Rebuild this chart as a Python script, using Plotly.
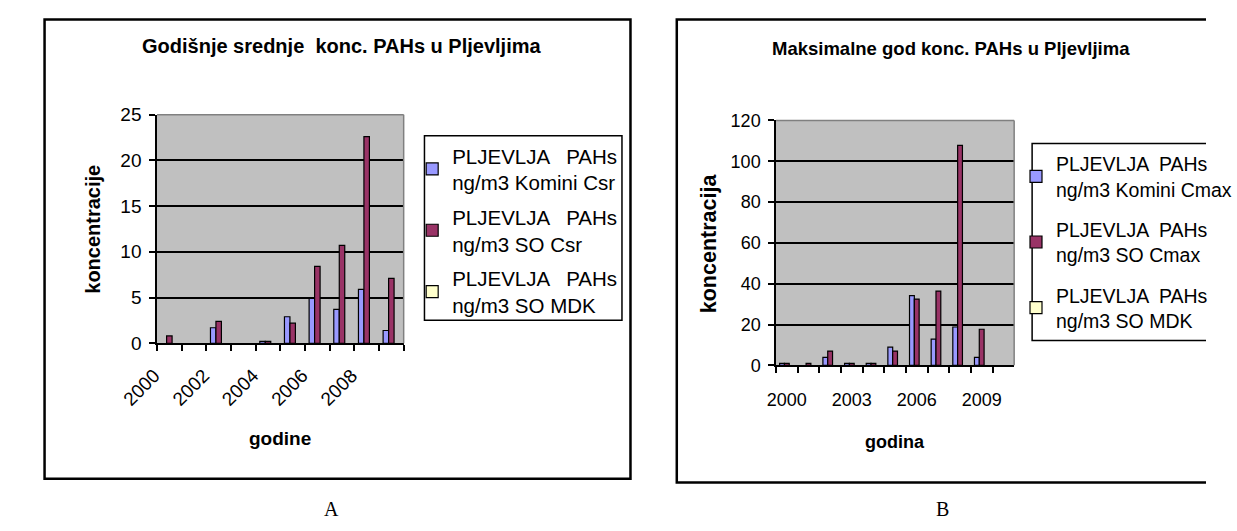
import plotly.graph_objects as go

# ---------------- data ----------------
years_a = ["2000", "2001", "2002", "2003", "2004", "2005", "2006", "2007", "2008", "2009"]
tick_labels_a = ["2000", "", "2002", "", "2004", "", "2006", "", "2008", ""]
komini_csr = [None, None, 1.7, None, 0.2, 2.9, 4.9, 3.7, 5.9, 1.4]
so_csr = [0.8, None, 2.4, None, 0.2, 2.2, 8.4, 10.7, 22.6, 7.1]
so_mdk_a = [None, None, None, None, None, None, None, None, None, None]

years_b = ["2000", "2001", "2002", "2003", "2004", "2005", "2006", "2007", "2008", "2009", "2010"]
tick_labels_b = ["2000", "", "", "2003", "", "", "2006", "", "", "2009", ""]
komini_cmax = [1.0, None, 3.9, 1.0, 1.0, 8.9, 34.2, 12.9, 18.8, 3.9, None]
so_cmax = [1.0, 1.0, 7.0, 1.0, 1.0, 7.0, 32.5, 36.4, 107.8, 17.7, None]
so_mdk_b = [None, None, None, None, None, None, None, None, None, None, None]

names_a = ["PLJEVLJA   PAHs<br>ng/m3 Komini Csr",
           "PLJEVLJA   PAHs<br>ng/m3 SO Csr",
           "PLJEVLJA   PAHs<br>ng/m3 SO MDK"]
names_b = ["PLJEVLJA  PAHs<br>ng/m3 Komini Cmax",
           "PLJEVLJA  PAHs<br>ng/m3 SO Cmax",
           "PLJEVLJA  PAHs<br>ng/m3 SO MDK"]
colors = ["#9999FF", "#993366", "#FFFFCC"]

W, H = 1237, 531
def px(x):
    return x / W
def py(y):
    return 1 - y / H

FONT = "Liberation Sans, Arial, sans-serif"
SERIF = "Liberation Serif, DejaVu Serif, serif"

fig = go.Figure()

for i, vals in enumerate([komini_csr, so_csr, so_mdk_a]):
    fig.add_trace(go.Bar(x=years_a, y=vals, name=names_a[i],
                         marker=dict(color=colors[i], line=dict(color="black", width=1.2)),
                         xaxis="x", yaxis="y", legend="legend",
                         legendgroup="a%d" % i))
for i, vals in enumerate([komini_cmax, so_cmax, so_mdk_b]):
    fig.add_trace(go.Bar(x=years_b, y=vals, name=names_b[i],
                         marker=dict(color=colors[i], line=dict(color="black", width=1.2)),
                         xaxis="x2", yaxis="y2", legend="legend2",
                         legendgroup="b%d" % i))

axis_common = dict(showline=True, linecolor="black", linewidth=1.5,
                   ticks="outside", tickcolor="black", tickwidth=1.5, ticklen=6,
                   zeroline=False, fixedrange=True)

fig.update_layout(
    width=W, height=H, autosize=False,
    margin=dict(l=0, r=0, t=0, b=0),
    paper_bgcolor="white", plot_bgcolor="#C0C0C0",
    barmode="group", bargap=0.333, bargroupgap=0,
    font=dict(family=FONT, color="black"),
    xaxis=dict(domain=[px(127), px(388)], anchor="y", type="category",
               tickvals=years_a, ticktext=tick_labels_a, tickson="boundaries",
               tickangle=-45, tickfont=dict(size=19), showgrid=False,
               range=[-0.5, 9.5], ticklabelstandoff=12, ticklabelshift=-15,
               **axis_common),
    yaxis=dict(domain=[py(347), py(109)], anchor="x", range=[0, 25], dtick=5,
               showgrid=True, gridcolor="black", gridwidth=1.5,
               tickfont=dict(size=19), ticklabelstandoff=4, **axis_common),
    xaxis2=dict(domain=[px(782), px(1034)], anchor="y2", type="category",
                tickvals=years_b, ticktext=tick_labels_b, tickson="boundaries",
                tickangle=0, tickfont=dict(size=18), showgrid=False,
                range=[-0.5, 10.5], ticklabelstandoff=17, **axis_common),
    yaxis2=dict(domain=[py(370), py(115)], anchor="x2", range=[0, 120], dtick=20,
                showgrid=True, gridcolor="black", gridwidth=1.5,
                tickfont=dict(size=18), ticklabelstandoff=4, **axis_common),
    legend=dict(x=px(397), y=py(131), xanchor="left", yanchor="top",
                bgcolor="rgba(0,0,0,0)", borderwidth=0,
                font=dict(size=20.5, family=FONT), traceorder="grouped",
                tracegroupgap=5, itemclick=False, itemdoubleclick=False),
    legend2=dict(x=px(1036), y=py(140), xanchor="left", yanchor="top",
                 bgcolor="rgba(0,0,0,0)", borderwidth=0,
                 font=dict(size=19.5, family=FONT), traceorder="grouped",
                 tracegroupgap=12, itemclick=False, itemdoubleclick=False),
    showlegend=True,
)

def open_box(x0, y0, y1, x_end):
    # rectangle whose right side lies at the page edge (no right border drawn)
    return "M %f,%f L %f,%f L %f,%f L %f,%f" % (
        px(x_end), py(y1), px(x0), py(y1), px(x0), py(y0), px(x_end), py(y0))

shapes = []
# outer chart borders
shapes.append(dict(type="rect", xref="paper", yref="paper",
                   x0=px(8), x1=px(628), y0=py(488), y1=py(10),
                   line=dict(color="black", width=2.5), layer="below"))
shapes.append(dict(type="path", xref="paper", yref="paper",
                   path=open_box(677, 10, 492, 1237),
                   line=dict(color="black", width=2.5), layer="below"))
# legend boxes
shapes.append(dict(type="rect", xref="paper", yref="paper",
                   x0=px(410), x1=px(619), y0=py(323), y1=py(131),
                   line=dict(color="black", width=1.5), layer="below"))
shapes.append(dict(type="path", xref="paper", yref="paper",
                   path=open_box(1053, 139, 344, 1237),
                   line=dict(color="black", width=1.5), layer="below"))
# grey plot-area top / right edges
for xr, yr in (("x domain", "y domain"), ("x2 domain", "y2 domain")):
    shapes.append(dict(type="line", xref=xr, yref=yr, x0=0, x1=1, y0=1, y1=1,
                       line=dict(color="#808080", width=1.5), layer="above"))
    shapes.append(dict(type="line", xref=xr, yref=yr, x0=1, x1=1, y0=0, y1=1,
                       line=dict(color="#808080", width=1.5), layer="above"))
fig.update_layout(shapes=shapes)

annotations = [
    dict(text="<b>Godišnje srednje  konc. PAHs u Pljevljima</b>", x=px(323), y=py(38),
         font=dict(size=20)),
    dict(text="<b>Maksimalne god konc. PAHs u Pljevljima</b>", x=px(967), y=py(40),
         font=dict(size=18.5)),
    dict(text="<b>koncentracije</b>", x=px(59), y=py(228), textangle=-90,
         font=dict(size=20)),
    dict(text="<b>koncentracija</b>", x=px(712), y=py(243), textangle=-90,
         font=dict(size=21.5)),
    dict(text="<b>godine</b>", x=px(257), y=py(446), font=dict(size=19)),
    dict(text="<b>godina</b>", x=px(908), y=py(450), font=dict(size=18)),
    dict(text="A", x=px(312), y=py(520), font=dict(size=20, family=SERIF)),
    dict(text="B", x=px(958), y=py(520), font=dict(size=20, family=SERIF)),
]
for a in annotations:
    a.update(xref="paper", yref="paper", showarrow=False, xanchor="center", yanchor="middle")
fig.update_layout(annotations=annotations)

fig.write_html("out.html",
               post_script="document.body.style.margin='0';document.body.style.overflow='hidden';")
